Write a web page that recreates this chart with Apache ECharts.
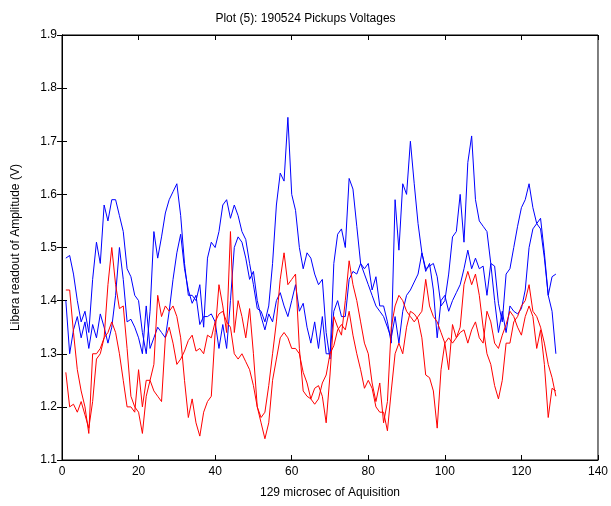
<!DOCTYPE html>
<html>
<head>
<meta charset="utf-8">
<script src="https://cdn.jsdelivr.net/npm/echarts@6/dist/echarts.min.js"></script>
<style>
html,body{margin:0;padding:0;background:#fff;}
#chart{width:611px;height:506px;}
</style>
</head>
<body>
<div id="chart"></div>
<script>
const titleText = "Plot (5): 190524 Pickups Voltages";
const xName = "129 microsec of Aquisition";
const yName = "Libera readout of Amplitude (V)";
const xTicks = [0, 20, 40, 60, 80, 100, 120, 140];
const yTicks = [1.1, 1.2, 1.3, 1.4, 1.5, 1.6, 1.7, 1.8, 1.9];

const blueA = [
1.48,1.485,1.45,1.40,1.36,1.38,1.34,1.44,1.51,1.47,
1.58,1.55,1.59,1.59,1.56,1.53,1.46,1.445,1.41,1.40,
1.34,1.30,1.38,1.53,1.48,1.52,1.565,1.59,1.605,1.62,
1.56,1.47,1.41,1.41,1.40,1.43,1.35,1.48,1.51,1.50,
1.53,1.58,1.59,1.555,1.58,1.56,1.53,1.515,1.47,1.43,
1.385,1.38,1.36,1.39,1.47,1.58,1.64,1.625,1.745,1.60,
1.57,1.50,1.46,1.49,1.48,1.45,1.43,1.44,1.34,1.29,
1.47,1.525,1.535,1.50,1.63,1.61,1.54,1.47,1.46,1.47,
1.42,1.445,1.39,1.39,1.36,1.32,1.59,1.495,1.62,1.60,
1.70,1.62,1.545,1.49,1.46,1.465,1.47,1.445,1.39,1.40,
1.45,1.52,1.53,1.60,1.51,1.66,1.71,1.59,1.55,1.54,
1.53,1.47,1.465,1.395,1.36,1.45,1.46,1.50,1.54,1.575,
1.59,1.62,1.575,1.545,1.535,1.48,1.41,1.445,1.45
];
const blueB = [
1.40,1.30,1.345,1.37,1.33,1.36,1.31,1.355,1.33,1.375,
1.35,1.32,1.35,1.41,1.50,1.44,1.36,1.365,1.35,1.33,
1.30,1.39,1.31,1.33,1.35,1.34,1.33,1.38,1.44,1.49,
1.525,1.46,1.42,1.395,1.41,1.355,1.37,1.37,1.375,1.36,
1.31,1.355,1.31,1.40,1.50,1.52,1.51,1.48,1.44,1.455,
1.40,1.37,1.345,1.375,1.36,1.40,1.415,1.39,1.37,1.40,
1.43,1.38,1.395,1.35,1.32,1.36,1.31,1.37,1.30,1.30,
1.38,1.40,1.37,1.37,1.44,1.455,1.45,1.47,1.45,1.43,
1.41,1.39,1.38,1.37,1.35,1.33,1.37,1.32,1.38,1.41,
1.42,1.435,1.45,1.49,1.455,1.47,1.42,1.33,1.40,1.41,
1.38,1.40,1.415,1.43,1.46,1.495,1.46,1.48,1.46,1.465,
1.41,1.47,1.40,1.34,1.38,1.34,1.39,1.38,1.375,1.385,
1.42,1.50,1.535,1.545,1.555,1.49,1.41,1.38,1.30
];
const redA = [
1.42,1.42,1.34,1.27,1.23,1.20,1.15,1.30,1.30,1.31,
1.33,1.43,1.50,1.43,1.385,1.39,1.31,1.22,1.20,1.19,
1.15,1.22,1.25,1.28,1.41,1.37,1.39,1.38,1.39,1.37,
1.33,1.25,1.18,1.215,1.17,1.145,1.19,1.21,1.22,1.34,
1.43,1.39,1.34,1.53,1.34,1.40,1.37,1.33,1.385,1.30,
1.20,1.18,1.19,1.24,1.30,1.36,1.44,1.49,1.43,1.44,
1.45,1.31,1.23,1.22,1.215,1.235,1.24,1.22,1.17,1.26,
1.37,1.35,1.335,1.40,1.475,1.43,1.40,1.36,1.32,1.30,
1.245,1.21,1.245,1.17,1.21,1.35,1.39,1.41,1.40,1.38,
1.37,1.36,1.37,1.38,1.44,1.39,1.37,1.36,1.34,1.32,
1.27,1.355,1.33,1.35,1.43,1.455,1.43,1.45,1.41,1.35,
1.30,1.28,1.24,1.215,1.25,1.32,1.32,1.36,1.37,1.39,
1.40,1.43,1.38,1.37,1.35,1.32,1.28,1.255,1.22
];
const redB = [
1.265,1.20,1.205,1.19,1.21,1.185,1.16,1.21,1.29,1.30,
1.33,1.34,1.36,1.34,1.30,1.25,1.20,1.20,1.19,1.27,
1.20,1.25,1.25,1.23,1.22,1.21,1.33,1.35,1.32,1.28,
1.29,1.305,1.325,1.335,1.305,1.31,1.30,1.335,1.33,1.36,
1.375,1.38,1.36,1.35,1.30,1.29,1.30,1.285,1.27,1.24,
1.20,1.17,1.14,1.17,1.25,1.29,1.33,1.34,1.33,1.31,
1.31,1.30,1.265,1.245,1.215,1.205,1.215,1.245,1.26,1.30,
1.315,1.345,1.355,1.345,1.38,1.335,1.30,1.27,1.235,1.25,
1.235,1.20,1.19,1.19,1.155,1.23,1.30,1.32,1.30,1.35,
1.38,1.375,1.365,1.33,1.26,1.255,1.23,1.16,1.27,1.32,
1.33,1.32,1.33,1.34,1.345,1.32,1.345,1.36,1.33,1.32,
1.38,1.36,1.32,1.31,1.335,1.355,1.38,1.37,1.35,1.335,
1.37,1.39,1.37,1.31,1.345,1.28,1.18,1.235,1.23
];

function pairs(arr){ return arr.map((v,i)=>[i+1, v]); }

const chart = echarts.init(document.getElementById('chart'), null, {renderer:'canvas'});
const font = 'Liberation Sans, Arial, sans-serif';
const lineSeries = (name, data, color) => ({
  name, type:'line', data: pairs(data), showSymbol:false, symbol:'none',
  lineStyle:{color, width:1}, itemStyle:{color}, animation:false, z:2
});
chart.setOption({
  backgroundColor:'#fff',
  animation:false,
  title:{text:titleText, left:'center', top:8,
    textStyle:{fontFamily:font, fontSize:12, fontWeight:'normal', color:'#000'}},
  grid:{left:62, right:12, top:35, bottom:46, show:true, borderColor:'#000', borderWidth:1, backgroundColor:'#fff'},
  xAxis:[{
    type:'value', min:xTicks[0], max:xTicks[xTicks.length-1], interval:20,
    name:xName, nameLocation:'middle', nameGap:27,
    nameTextStyle:{fontFamily:font, fontSize:12, color:'#000'},
    axisLine:{show:true, lineStyle:{color:'#000'}},
    axisTick:{show:true, inside:true, length:5, lineStyle:{color:'#000'}},
    axisLabel:{fontFamily:font, fontSize:12, color:'#000', margin:6},
    splitLine:{show:false}
  },{
    type:'value', position:'top', min:xTicks[0], max:xTicks[xTicks.length-1], interval:20,
    axisLine:{show:true, lineStyle:{color:'#000'}},
    axisTick:{show:true, inside:true, length:5, lineStyle:{color:'#000'}},
    axisLabel:{show:false}, splitLine:{show:false}
  }],
  yAxis:[{
    type:'value', min:yTicks[0], max:yTicks[yTicks.length-1], interval:0.1,
    name:yName, nameLocation:'middle', nameGap:40, nameRotate:90,
    nameTextStyle:{fontFamily:font, fontSize:12, color:'#000'},
    axisLine:{show:true, lineStyle:{color:'#000'}},
    axisTick:{show:true, inside:true, length:5, lineStyle:{color:'#000'}},
    axisLabel:{fontFamily:font, fontSize:12, color:'#000', margin:5,
      formatter:(v)=>Number(v).toFixed(1)},
    splitLine:{show:false}
  },{
    type:'value', position:'right', min:yTicks[0], max:yTicks[yTicks.length-1], interval:0.1,
    axisLine:{show:true, lineStyle:{color:'#000'}},
    axisTick:{show:true, inside:true, length:5, lineStyle:{color:'#000'}},
    axisLabel:{show:false}, splitLine:{show:false}
  }],
  series:[
    lineSeries('Pickup A', blueA, '#0000ff'),
    lineSeries('Pickup B', blueB, '#0000ff'),
    lineSeries('Pickup C', redA, '#ff0000'),
    lineSeries('Pickup D', redB, '#ff0000')
  ]
});
</script>
</body>
</html>
